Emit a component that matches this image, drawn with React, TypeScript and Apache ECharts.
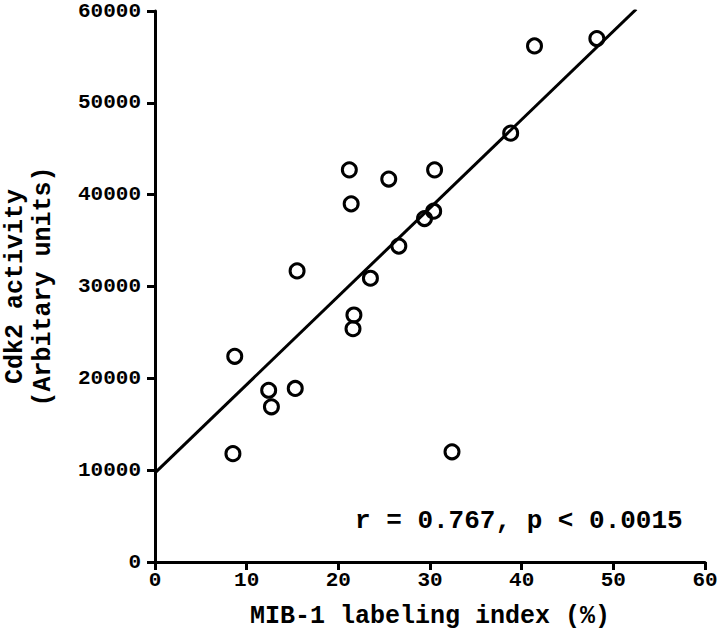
import React, { useEffect, useRef } from "react";
import * as echarts from "echarts";

const mibIndex = [8.5, 8.7, 12.4, 12.7, 15.3, 15.5, 21.2, 21.4, 21.6, 21.7, 23.5, 25.5, 26.6, 29.4, 30.4, 30.5, 32.4, 38.8, 41.4, 48.2];
const cdk2Activity = [11800, 22400, 18700, 16900, 18900, 31700, 42700, 39000, 25400, 26900, 30900, 41700, 34400, 37400, 38200, 42700, 12000, 46700, 56200, 57000];
const fitX = [0, 52.5];
const fitY = [9700, 60200];
const xTicks = [0, 10, 20, 30, 40, 50, 60];
const yTicks = [0, 10000, 20000, 30000, 40000, 50000, 60000];
const annotation = "r = 0.767, p < 0.0015";
const xTitle = "MIB-1 labeling index (%)";
const yTitle = "Cdk2 activity\n(Arbitary units)";

const FONT = "'Liberation Mono', 'Courier New', monospace";

export default function App() {
  const ref = useRef<HTMLDivElement>(null);
  useEffect(() => {
    document.body.style.margin = "0";
    const chart = echarts.init(ref.current!, null, { renderer: "svg" });
    const points = mibIndex.map((x, i) => [x, cdk2Activity[i]]);
    const fit = fitX.map((x, i) => [x, fitY[i]]);
    const axisCommon = {
      axisLine: { show: true, lineStyle: { color: "#000", width: 3 } },
      axisTick: { show: true, length: 8, lineStyle: { color: "#000", width: 3 } },
      splitLine: { show: false },
      axisLabel: {
        color: "#000",
        fontFamily: FONT,
        fontWeight: "bold",
        fontSize: 21,
        formatter: (v: number) => String(v),
      },
      nameTextStyle: { color: "#000", fontFamily: FONT, fontWeight: "bold", fontSize: 25 },
    };
    chart.setOption({
      animation: false,
      backgroundColor: "#fff",
      grid: { left: 155, right: 15, top: 11, bottom: 68, containLabel: false, outerBoundsMode: "none" },
      xAxis: {
        type: "value",
        min: xTicks[0],
        max: xTicks[xTicks.length - 1],
        interval: xTicks[1] - xTicks[0],
        name: xTitle,
        nameLocation: "middle",
        nameGap: 42,
        ...axisCommon,
        axisLabel: { ...axisCommon.axisLabel, margin: 8 },
      },
      yAxis: {
        type: "value",
        min: yTicks[0],
        max: yTicks[yTicks.length - 1],
        interval: yTicks[1] - yTicks[0],
        name: yTitle,
        nameLocation: "middle",
        nameRotate: 90,
        nameGap: 98,
        ...axisCommon,
        nameTextStyle: { ...axisCommon.nameTextStyle, lineHeight: 28 },
        axisLabel: { ...axisCommon.axisLabel, margin: 14 },
      },
      series: [
        {
          type: "line",
          data: fit,
          symbol: "none",
          lineStyle: { color: "#000", width: 3 },
          silent: true,
          z: 1,
        },
        {
          type: "scatter",
          data: points,
          symbol: "circle",
          symbolSize: 14,
          itemStyle: { color: "rgba(255,255,255,0)", borderColor: "#000", borderWidth: 3, opacity: 1 },
          z: 2,
        },
      ],
      graphic: [
        {
          type: "text",
          left: 355,
          top: 508,
          style: {
            text: annotation,
            fill: "#000",
            font: `bold 26px ${FONT}`,
          },
        },
      ],
    });
    return () => chart.dispose();
  }, []);
  return <div ref={ref} style={{ width: 720, height: 630, position: "absolute", left: 0, top: 0 }} />;
}
